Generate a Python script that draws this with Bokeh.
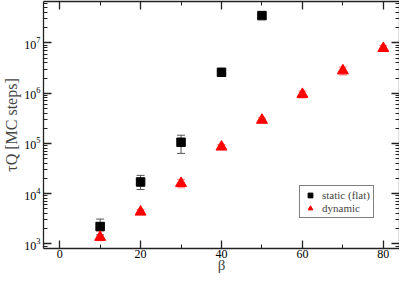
import math
from bokeh.plotting import figure
from bokeh.models import (LinearAxis, LogAxis, FixedTicker, Whisker, ColumnDataSource,
                          Legend, LegendItem, Range1d, TeeHead, CustomJSTickFormatter)
from bokeh.embed import file_html
from bokeh.resources import INLINE

# ---- data ----
beta_static = [10, 20, 30, 40, 50]
tau_static = [2.2e3, 1.7e4, 1.05e5, 2.6e6, 3.5e7]
tau_static_lo = [1.5e3, 1.2e4, 6.3e4, 2.4e6, 3.3e7]
tau_static_hi = [3.1e3, 2.3e4, 1.45e5, 2.8e6, 3.7e7]

beta_dyn = [10, 20, 30, 40, 50, 60, 70, 80]
tau_dyn = [1.35e3, 4.3e3, 1.6e4, 8.5e4, 2.9e5, 9.5e5, 2.8e6, 7.8e6]
tau_dyn_lo = [1.15e3, 3.8e3, 1.3e4, 7.5e4, 2.6e5, 8.0e5, 2.3e6, 6.8e6]
tau_dyn_hi = [1.8e3, 4.8e3, 1.9e4, 9.5e4, 3.2e5, 1.1e6, 3.3e6, 8.8e6]

x_major = [0, 20, 40, 60, 80]
x_minor = [10, 30, 50, 70]
y_major = [1e3, 1e4, 1e5, 1e6, 1e7]
y_minor = [k * 10 ** e for e in range(2, 8) for k in range(2, 10)]

y_label = "τQ [MC steps]"

FONT = "Liberation Serif"
H = 277

p = figure(width=399, height=H,
           x_range=Range1d(-4, 84), y_range=Range1d(10 ** 2.905, 10 ** 7.825),
           y_axis_type="log", output_backend="svg", toolbar_location=None,
           min_border_left=30, min_border_right=0, min_border_top=1, min_border_bottom=29)
p.outline_line_color = None
p.xgrid.visible = False
p.ygrid.visible = False

xt = FixedTicker(ticks=x_major, minor_ticks=x_minor)
yt = FixedTicker(ticks=y_major, minor_ticks=y_minor)


def style(ax, labels=True):
    ax.axis_line_color = "#222222"
    ax.axis_line_width = 1.3
    ax.major_tick_line_color = "#222222"
    ax.minor_tick_line_color = "#222222"
    ax.major_tick_line_width = 1.3
    ax.minor_tick_line_width = 1
    ax.major_tick_in = 8
    ax.major_tick_out = 0
    ax.minor_tick_in = 4
    ax.minor_tick_out = 0
    ax.major_label_text_font = FONT
    ax.major_label_text_color = "black"
    ax.major_label_text_font_size = "12px"
    ax.major_label_standoff = 2
    if not labels:
        ax.formatter = CustomJSTickFormatter(code="return ''")
        ax.major_label_standoff = 0


p.xaxis.ticker = xt
p.yaxis.ticker = yt
style(p.xaxis[0])
style(p.yaxis[0])
p.yaxis.major_label_standoff = 3
p.yaxis.axis_label = y_label
p.yaxis.axis_label_text_font = FONT
p.yaxis.axis_label_text_font_style = "normal"
p.yaxis.axis_label_text_font_size = "16px"
p.yaxis.axis_label_standoff = 1
p.xaxis.major_label_standoff = 1
p.xaxis.axis_label = "β"
p.xaxis.axis_label_text_font = FONT
p.xaxis.axis_label_text_font_style = "normal"
p.xaxis.axis_label_text_font_size = "15px"
p.xaxis.axis_label_standoff = -4

top = LinearAxis(ticker=xt)
style(top, labels=False)
p.add_layout(top, "above")
right = LogAxis(ticker=yt)
style(right, labels=False)
p.add_layout(right, "right")

src_s = ColumnDataSource(dict(x=beta_static, y=tau_static, lo=tau_static_lo, hi=tau_static_hi))
src_d = ColumnDataSource(dict(x=beta_dyn, y=tau_dyn, lo=tau_dyn_lo, hi=tau_dyn_hi))

ws = Whisker(source=src_s, base="x", lower="lo", upper="hi", line_color="#555555", line_width=1,
             upper_head=TeeHead(size=8, line_color="#555555"),
             lower_head=TeeHead(size=8, line_color="#555555"))
wd = Whisker(source=src_d, base="x", lower="lo", upper="hi", line_color="#ff7f7f", line_width=1,
             upper_head=TeeHead(size=8, line_color="#ff7f7f"),
             lower_head=TeeHead(size=8, line_color="#ff7f7f"))
p.add_layout(ws)
p.add_layout(wd)

r_s = p.scatter("x", "y", source=src_s, marker="square", size=8.5, fill_color="black", line_color="black")
r_d = p.scatter("x", "y", source=src_d, marker="triangle", size=11, fill_color="red", line_color="red")

legend = Legend(items=[LegendItem(label="static (flat)", renderers=[r_s]),
                       LegendItem(label="dynamic", renderers=[r_d])],
                location=(256, 30))
legend.label_text_font = FONT
legend.label_text_font_size = "11px"
legend.label_height = 10
legend.glyph_height = 12
legend.glyph_width = 14
legend.padding = 3
legend.spacing = 1
legend.margin = 0
legend.border_line_color = "black"
legend.border_line_width = 1
legend.background_fill_alpha = 1
p.add_layout(legend, "center")

open("out.html", "w").write(file_html(p, INLINE))
